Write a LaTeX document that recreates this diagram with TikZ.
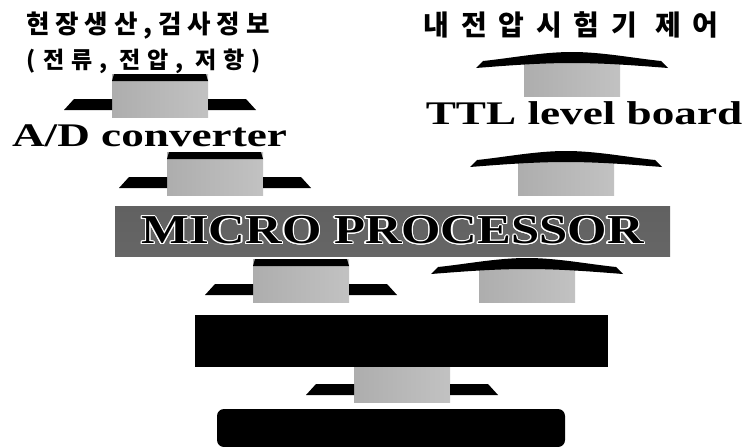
\documentclass[tikz,border=0pt]{standalone}
\usepackage{fontspec}
\setmainfont{Liberation Serif}
\newfontfamily\widefont[FakeStretch=1.37]{Liberation Serif}
\newfontfamily\microfont[FakeStretch=1.235]{Liberation Serif}
\newfontfamily\kofont{Noto Sans CJK KR}
\usepackage{contour}
\contourlength{1.1pt}

\begin{document}
\begin{tikzpicture}[x=1pt, y=-1pt,
    shaft/.style={left color=black!32, middle color=black!6, right color=black!24},
    head/.style={fill=black},
    plate/.style={fill=black, inner sep=0pt},
    lbl/.style={font=\widefont\bfseries\fontsize{33}{33}\selectfont, inner sep=0pt, anchor=base},
    kor/.style={inner sep=0pt, anchor=base},
    down arrow/.pic={
        \fill[shaft] (-48,0) rectangle (48,43);
        \fill[head] (-46,0) -- (46,0) -- (48,7) -- (-48,7) -- cycle;
        \fill[head] (-48,25) -- (-86,25) -- (-96,36) -- (-48,36) -- cycle;
        \fill[head] (48,25) -- (86,25) -- (96,36) -- (48,36) -- cycle;
    },
    up arrow/.pic={
        \fill[shaft] (-48,10) rectangle (48,44);
        \fill[head] (-96,16) -- (-89,9) .. controls (-60,6) and (-30,0) .. (0,0)
            .. controls (30,0) and (60,6) .. (89,9) -- (96,16)
            .. controls (70,14) and (35,11) .. (0,11)
            .. controls (-35,11) and (-70,14) .. cycle;
    },
]
\useasboundingbox (0,0) rectangle (745,447);

% --- Left column: measured data ---
\node[kor, font=\kofont\bfseries\fontsize{25.5}{25.5}\selectfont\addfontfeature{LetterSpace=23}]
    (site) at (148,33) {현장생산,검사정보};
\node[kor, font=\kofont\bfseries\fontsize{23}{23}\selectfont\addfontfeature{LetterSpace=30}]
    (meas) at (144,68) {(전류, \underline{전압,} 저항)};
\pic at (160,74) {down arrow};
\node[lbl] (adc) at (149.5,146) {A/D converter};
\pic at (215,152) {down arrow};

% --- Right column: control ---
\node[kor, font=\kofont\bfseries\fontsize{28}{28}\selectfont\addfontfeature{LetterSpace=42}]
    (ctrl) at (571,35) {내전압시험기 제어};
\pic at (572,52) {up arrow};
\node[lbl] (ttl) at (584,124) {TTL level board};
\pic at (566,151) {up arrow};

% --- Micro processor ---
\node[plate, top color=black!62, middle color=black!34, bottom color=black!60,
      minimum width=555pt, minimum height=50pt] (micro) at (392.5,231)
    {\microfont\bfseries\fontsize{41}{41}\selectfont\contour{white}{MICRO PROCESSOR}};

% --- Lower blocks ---
\pic at (301,259) {down arrow};
\pic at (527,258) {up arrow};
\pic at (402,359) {down arrow};
\node[plate, minimum width=413pt, minimum height=52pt] (board) at (401.5,341) {};
\node[plate, rounded corners=7pt, minimum width=348pt, minimum height=38pt]
    (base) at (391,428) {};
\end{tikzpicture}
\end{document}
